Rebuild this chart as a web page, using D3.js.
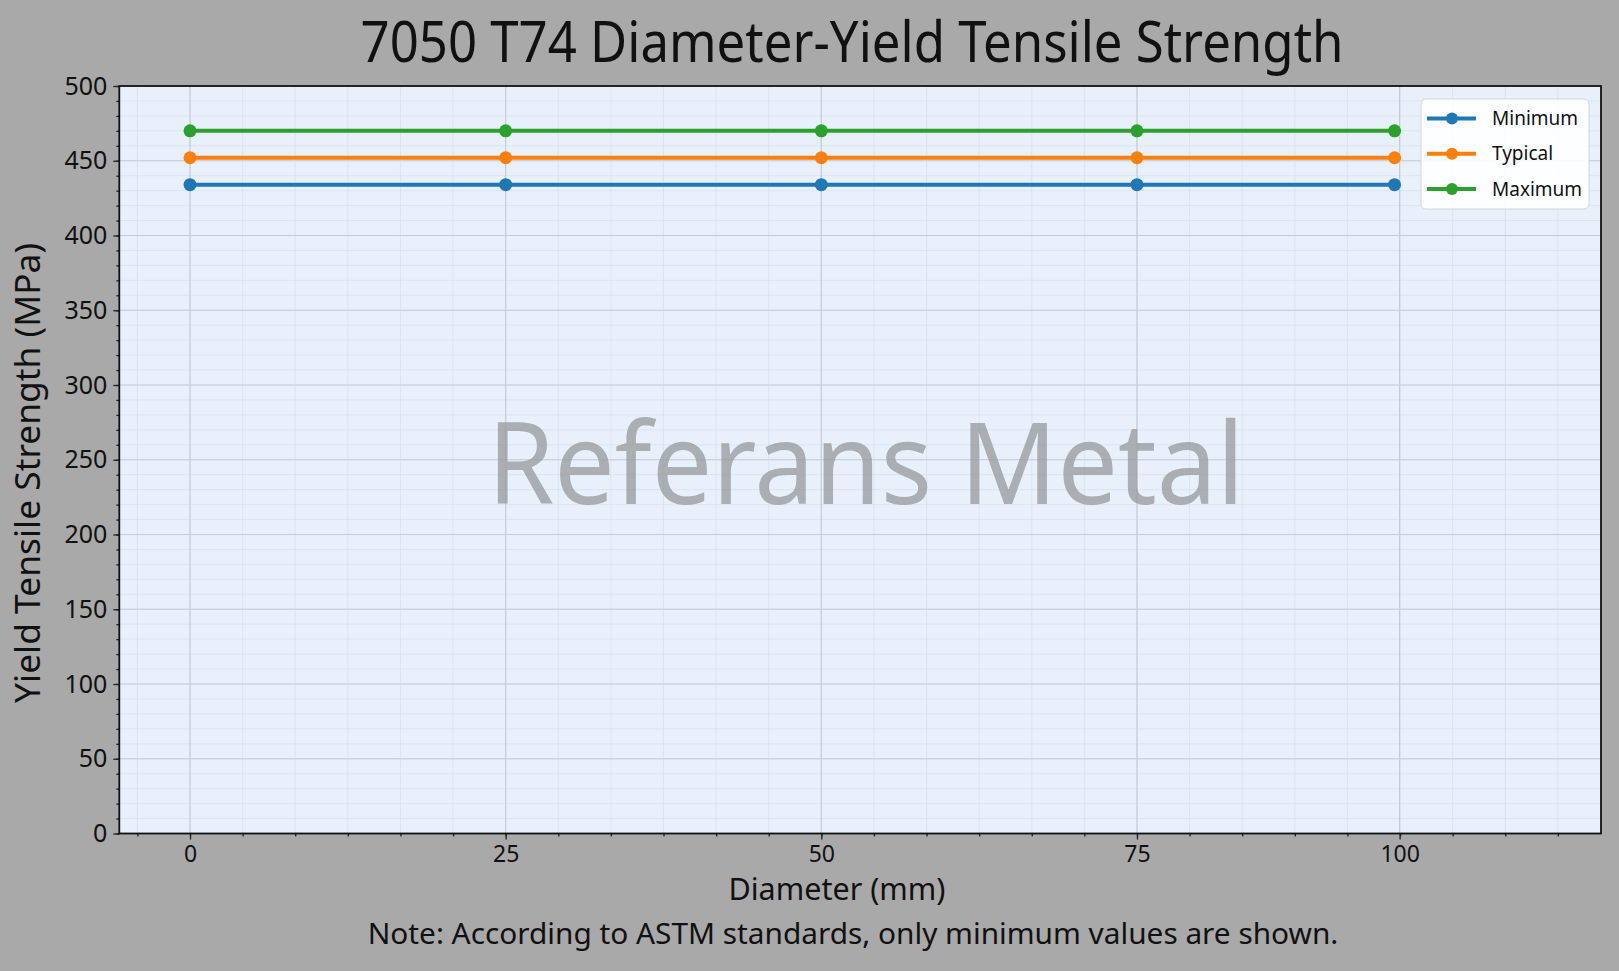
<!DOCTYPE html>
<html lang="en">
<head>
    <meta charset="UTF-8">
    <title>7050 T74 Diameter-Yield Tensile Strength</title>
    <script src="https://cdnjs.cloudflare.com/ajax/libs/d3/7.8.5/d3.min.js"></script>
    <style>
        body {
            margin: 0;
            background: #a9a9a9;
            font-family: "Noto Sans", sans-serif;
        }
        svg { display: block; }
        .tick text { font-family: "Noto Sans", sans-serif; fill: #111; }
    </style>
</head>
<body>
    <div id="chart"></div>

    <script>
        // x axis: labels as printed, and where they sit on the drawn axis
        const diameterLabels = ["0", "25", "50", "75", "100"];
        const diameterTicks = [0, 25, 50, 75, 95.8];
        const diameters = [0, 25, 50, 75, 95.4];

        // yield strength (MPa) per diameter
        const minimum = [434, 434, 434, 434, 434];
        const typical = [452, 452, 452, 452, 452];
        const maximum = [470, 470, 470, 470, 470];

        const seriesNames = ["Minimum", "Typical", "Maximum"];
        const seriesColors = ["#1f77b4", "#ff7f0e", "#2ca02c"];
        const yTicks = [0, 50, 100, 150, 200, 250, 300, 350, 400, 450, 500];

        const W = 1619, H = 971;
        const plotLeft = 119.3, plotRight = 1601, plotTop = 86, plotBottom = 833.5;

        const svg = d3.select("#chart").append("svg")
            .attr("width", W)
            .attr("height", H);

        svg.append("rect").attr("width", W).attr("height", H).attr("fill", "#a9a9a9");

        const x = d3.scaleLinear().domain([-5.6, 111.75]).range([plotLeft, plotRight]);
        const y = d3.scaleLinear().domain([0, 500]).range([plotBottom, plotTop]);

        const minorX = d3.range(-1, 27).map(i => i * 25 / 6);
        const minorY = d3.range(0, 501, 10);

        // plot background
        svg.append("rect")
            .attr("x", plotLeft).attr("y", plotTop)
            .attr("width", plotRight - plotLeft).attr("height", plotBottom - plotTop)
            .attr("fill", "#e8f1fb");

        // minor grid
        const grid = svg.append("g");
        grid.selectAll("line.mx").data(minorX).enter().append("line")
            .attr("x1", d => x(d)).attr("x2", d => x(d))
            .attr("y1", plotTop).attr("y2", plotBottom)
            .attr("stroke", "#d8e2ec").attr("stroke-width", 0.8);
        grid.selectAll("line.my").data(minorY).enter().append("line")
            .attr("y1", d => y(d)).attr("y2", d => y(d))
            .attr("x1", plotLeft).attr("x2", plotRight)
            .attr("stroke", "#d8e2ec").attr("stroke-width", 0.8);

        // major grid
        grid.selectAll("line.gx").data(diameterTicks).enter().append("line")
            .attr("x1", d => x(d)).attr("x2", d => x(d))
            .attr("y1", plotTop).attr("y2", plotBottom)
            .attr("stroke", "#c5ced7").attr("stroke-width", 1.2);
        grid.selectAll("line.gy").data(yTicks).enter().append("line")
            .attr("y1", d => y(d)).attr("y2", d => y(d))
            .attr("x1", plotLeft).attr("x2", plotRight)
            .attr("stroke", "#c5ced7").attr("stroke-width", 1.2);

        // watermark
        svg.append("text")
            .attr("x", 866).attr("y", 504)
            .attr("text-anchor", "middle")
            .attr("font-size", 113)
            .attr("textLength", 757)
            .attr("lengthAdjust", "spacingAndGlyphs")
            .attr("fill", "#9a9c9f")
            .attr("opacity", 0.78)
            .text("Referans Metal");

        // series lines + markers
        const series = [minimum, typical, maximum];
        const line = d3.line().x((d, i) => x(diameters[i])).y(d => y(d));

        series.forEach((vals, s) => {
            const g = svg.append("g");
            g.append("path")
                .datum(vals)
                .attr("d", line)
                .attr("fill", "none")
                .attr("stroke", seriesColors[s])
                .attr("stroke-width", 4);
            g.selectAll("circle").data(vals).enter().append("circle")
                .attr("cx", (d, i) => x(diameters[i]))
                .attr("cy", d => y(d))
                .attr("r", 6.5)
                .attr("fill", seriesColors[s]);
        });

        // axes
        const xMinor = svg.append("g").attr("transform", `translate(0,${plotBottom})`)
            .call(d3.axisBottom(x).tickValues(minorX).tickSize(3).tickFormat("").tickSizeOuter(0));
        const yMinor = svg.append("g").attr("transform", `translate(${plotLeft},0)`)
            .call(d3.axisLeft(y).tickValues(minorY).tickSize(3).tickFormat("").tickSizeOuter(0));

        const xAxis = svg.append("g").attr("transform", `translate(0,${plotBottom})`)
            .call(d3.axisBottom(x)
                .tickValues(diameterTicks)
                .tickFormat((d, i) => diameterLabels[i])
                .tickSize(6).tickPadding(6).tickSizeOuter(0));
        xAxis.selectAll("text").attr("font-size", 23);

        const yAxis = svg.append("g").attr("transform", `translate(${plotLeft},0)`)
            .call(d3.axisLeft(y).tickValues(yTicks).tickSize(6).tickPadding(6).tickSizeOuter(0));
        yAxis.selectAll("text").attr("font-size", 25);

        [xMinor, yMinor, xAxis, yAxis].forEach(a => {
            a.select(".domain").remove();
            a.selectAll("line").attr("stroke", "#222").attr("stroke-width", 1.3);
        });

        // frame
        svg.append("rect")
            .attr("x", plotLeft).attr("y", plotTop)
            .attr("width", plotRight - plotLeft).attr("height", plotBottom - plotTop)
            .attr("fill", "none")
            .attr("stroke", "#111")
            .attr("stroke-width", 1.8);

        // legend
        const legend = svg.append("g");
        legend.append("rect")
            .attr("x", 1421).attr("y", 99)
            .attr("width", 168).attr("height", 110)
            .attr("rx", 5)
            .attr("fill", "#ffffff").attr("fill-opacity", 0.88)
            .attr("stroke", "#d4d4d4");
        seriesNames.forEach((name, s) => {
            const ly = 118.5 + s * 35.3;
            legend.append("line")
                .attr("x1", 1427).attr("x2", 1476)
                .attr("y1", ly).attr("y2", ly)
                .attr("stroke", seriesColors[s]).attr("stroke-width", 4);
            legend.append("circle")
                .attr("cx", 1452).attr("cy", ly).attr("r", 6)
                .attr("fill", seriesColors[s]);
            legend.append("text")
                .attr("x", 1492).attr("y", ly)
                .attr("dy", "0.35em")
                .attr("font-size", 19)
                .attr("fill", "#111")
                .text(name);
        });

        // titles
        svg.append("text")
            .attr("x", 852).attr("y", 62)
            .attr("text-anchor", "middle")
            .attr("font-size", 56)
            .attr("textLength", 983)
            .attr("lengthAdjust", "spacingAndGlyphs")
            .attr("fill", "#111")
            .text("7050 T74 Diameter-Yield Tensile Strength");

        svg.append("text")
            .attr("transform", "translate(40,473) rotate(-90)")
            .attr("text-anchor", "middle")
            .attr("font-size", 34)
            .attr("textLength", 460)
            .attr("lengthAdjust", "spacingAndGlyphs")
            .attr("fill", "#111")
            .text("Yield Tensile Strength (MPa)");

        svg.append("text")
            .attr("x", 837).attr("y", 900)
            .attr("text-anchor", "middle")
            .attr("font-size", 30.5)
            .attr("fill", "#111")
            .text("Diameter (mm)");

        svg.append("text")
            .attr("x", 853).attr("y", 944)
            .attr("text-anchor", "middle")
            .attr("font-size", 29.8)
            .attr("fill", "#111")
            .text("Note: According to ASTM standards, only minimum values are shown.");
    </script>
</body>
</html>
